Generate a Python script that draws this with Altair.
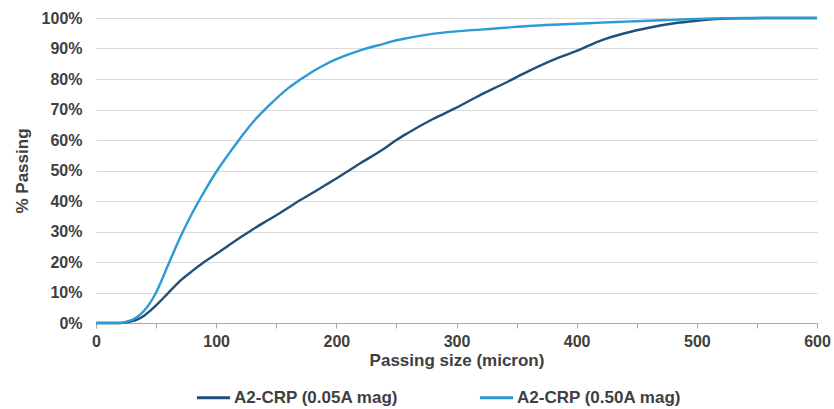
import altair as alt
import pandas as pd

size = [0, 10, 20, 25, 30, 35, 40, 45, 50, 60, 70, 80, 90, 100, 110, 120, 130, 140, 150,
        160, 170, 180, 190, 200, 220, 240, 250, 260, 280, 300, 320, 340, 360, 380, 400,
        420, 440, 460, 480, 500, 520, 540, 560, 580, 600]

low_mag = [0, 0, 0, 0.2, 0.6, 1.3, 2.4, 4.0, 5.8, 9.8, 13.8, 17.0, 20.0, 22.6, 25.3, 28.0,
           30.6, 33.0, 35.3, 37.8, 40.3, 42.6, 45.0, 47.4, 52.4, 57.2, 60.0, 62.4, 66.8,
           70.6, 74.8, 78.6, 82.6, 86.2, 89.2, 92.6, 95.0, 96.8, 98.2, 99.1, 99.7, 99.9,
           100, 100, 100]

high_mag = [0, 0, 0, 0.4, 1.0, 2.2, 4.0, 6.6, 10.0, 19.0, 28.0, 36.0, 43.0, 49.5, 55.2,
            60.6, 65.6, 69.8, 73.6, 77.0, 79.8, 82.4, 84.6, 86.5, 89.4, 91.6, 92.7, 93.5,
            94.8, 95.6, 96.2, 96.8, 97.4, 97.8, 98.1, 98.5, 98.8, 99.1, 99.4, 99.7, 99.9,
            100, 100, 100, 100]

series_names = ["A2-CRP (0.05A mag)", "A2-CRP (0.50A mag)"]
colors = ["#22507c", "#2b9ad6"]

rows = []
for s, y in zip(size, low_mag):
    rows.append({"size": s, "pct": y / 100, "series": series_names[0]})
for s, y in zip(size, high_mag):
    rows.append({"size": s, "pct": y / 100, "series": series_names[1]})
df = pd.DataFrame(rows)

font = "Liberation Sans"
text_color = "#404040"

chart = alt.Chart(df).mark_line(strokeWidth=2.4, interpolate="monotone").encode(
    x=alt.X("size:Q",
            scale=alt.Scale(domain=[0, 600], nice=False),
            axis=alt.Axis(title="Passing size (micron)",
                          values=list(range(0, 601, 50)),
                          labelExpr="datum.value % 100 == 0 ? datum.label : ''",
                          grid=False, domainColor="#a6a6a6", tickColor="#a6a6a6",
                          tickSize=5, labelPadding=5, titlePadding=3,
                          labelFont=font, labelFontSize=16, labelFontWeight="bold",
                          labelColor=text_color, titleFont=font, titleFontSize=17,
                          titleFontWeight="bold", titleColor=text_color,
                          labelFlush=False)),
    y=alt.Y("pct:Q",
            scale=alt.Scale(domain=[0, 1], nice=False),
            axis=alt.Axis(title="% Passing", format=".0%",
                          values=[i / 10 for i in range(11)],
                          grid=True, gridColor="#d9d9d9", domain=False, ticks=False,
                          labelPadding=14, titlePadding=10,
                          labelFont=font, labelFontSize=16, labelFontWeight="bold",
                          labelColor=text_color, titleFont=font, titleFontSize=17,
                          titleFontWeight="bold", titleColor=text_color)),
    color=alt.Color("series:N",
                    scale=alt.Scale(domain=series_names, range=colors),
                    legend=alt.Legend(title=None, orient="none", direction="horizontal",
                                      legendX=99, legendY=361,
                                      symbolType="stroke", symbolStrokeWidth=3,
                                      symbolSize=1100, columnPadding=74, labelOffset=2,
                                      labelLimit=400,
                                      labelFont=font, labelFontSize=17,
                                      labelFontWeight="bold", labelColor=text_color)),
).properties(
    width=721, height=305,
    padding={"left": 96, "top": 18, "right": 17, "bottom": 86},
    autosize=alt.AutoSizeParams(type="none"),
).configure_view(stroke=None)

chart.save("out.html", embed_options={"renderer": "svg", "actions": False})
